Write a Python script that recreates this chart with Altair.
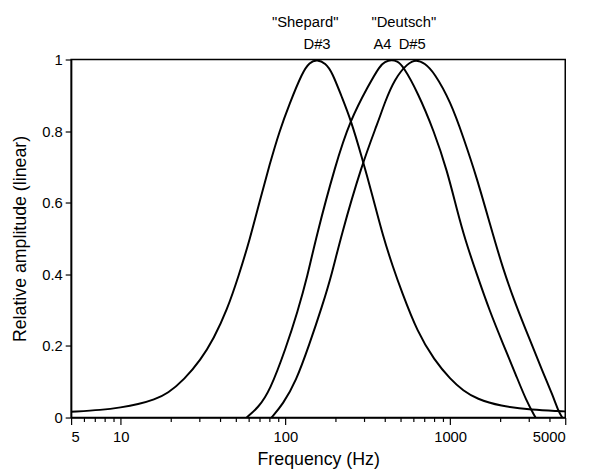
import altair as alt
import pandas as pd

# Shepard envelope (centre D#3)
shepard_freq = [5, 7.7, 10, 12.8, 16, 19.3, 24.3, 30.6, 36.7, 44.2, 52, 61, 70, 80.2, 92,
                105.6, 127, 140, 155.6, 175, 192, 220, 248, 291, 340, 392, 450, 505, 635, 800,
                1007, 1200, 1452, 2004, 3170, 4690, 5000]
shepard_amp = [0.016, 0.021, 0.028, 0.037, 0.050, 0.067, 0.106, 0.161, 0.220, 0.30, 0.395,
               0.50, 0.607, 0.707, 0.80, 0.875, 0.965, 0.992, 1.0, 0.99, 0.965, 0.895, 0.835,
               0.728, 0.615, 0.505, 0.42, 0.355, 0.237, 0.161, 0.106, 0.075, 0.052, 0.032,
               0.021, 0.018, 0.017]

# Deutsch envelope (centre A4)
a4_freq = [58.2, 68.4, 80.2, 100.9, 118.6, 136.2, 152.8, 201.4, 247.7, 318.7, 375, 401, 440, 478,
           516, 635, 800, 960, 1102, 1237, 1452, 1746, 2099, 2519, 2893, 3300]
a4_amp = [0, 0.028, 0.073, 0.195, 0.296, 0.395, 0.50, 0.707, 0.831, 0.927, 0.983, 0.993, 1.0, 0.995,
          0.983, 0.909, 0.799, 0.689, 0.579, 0.495, 0.400, 0.295, 0.205, 0.117, 0.048, 0]

# Deutsch envelope (centre D#5)
ds5_freq = [82.3, 96.6, 115.9, 139.3, 167.5, 192.3, 215.6, 291, 365.7, 401, 460, 553, 622, 700, 800,
            1007, 1209, 1452, 1746, 2099, 2519, 3030, 3640, 4178, 4580, 4800]
ds5_amp = [0, 0.037, 0.101, 0.202, 0.312, 0.404, 0.50, 0.707, 0.826, 0.88, 0.946, 0.99, 1.0, 0.99,
           0.964, 0.882, 0.780, 0.670, 0.540, 0.413, 0.312, 0.220, 0.129, 0.064, 0.014, 0]

# annotations
top_labels = ['"Shepard"', '"Deutsch"']
top_freq = [155.6, 523.2]
top_dx = [-12, 0]
note_labels = ["D#3", "A4", "D#5"]
note_freq = [155.6, 440.0, 622.3]
note_dx = [0, -9, -4]

x_ticks = [5, 6, 7, 8, 9, 10, 20, 30, 40, 50, 60, 70, 80, 90, 100, 200, 300, 400, 500, 600, 700,
           800, 900, 1000, 2000, 3000, 4000, 5000]
x_major = [5, 10, 100, 1000, 5000]
y_ticks = [0, 0.2, 0.4, 0.6, 0.8, 1]

rows = []
for name, fs, amps in [("Shepard", shepard_freq, shepard_amp),
                       ("A4", a4_freq, a4_amp),
                       ("D#5", ds5_freq, ds5_amp)]:
    for f, a in zip(fs, amps):
        rows.append({"series": name, "freq": f, "amp": a})
df = pd.DataFrame(rows)

FONT = "Liberation Sans"
major_test = "indexof(" + str(x_major) + ", datum.value) >= 0"

x_enc = alt.X("freq:Q",
              scale=alt.Scale(type="log", domain=[5, 5000], nice=False),
              axis=alt.Axis(values=x_ticks, title="Frequency (Hz)",
                            labelExpr=major_test + " ? format(datum.value, 'd') : ''",
                            tickSize={"condition": {"test": major_test, "value": 7}, "value": 4},
                            labelPadding=5, titlePadding=7))
y_enc = alt.Y("amp:Q", scale=alt.Scale(domain=[0, 1], nice=False),
              axis=alt.Axis(values=y_ticks, format="~g", title="Relative amplitude (linear)",
                            tickSize=6, labelPadding=3, titlePadding=12))

lines = alt.Chart(df).mark_line(color="black", strokeWidth=2, interpolate="basis").encode(
    x=x_enc, y=y_enc, detail="series:N")

top_df = pd.DataFrame({"label": top_labels, "freq": top_freq, "dx": top_dx})
note_df = pd.DataFrame({"label": note_labels, "freq": note_freq, "dx": note_dx})

t_top = alt.layer(*[
    alt.Chart(top_df.iloc[[i]]).mark_text(font=FONT, fontSize=15, color="black", baseline="middle",
                                          dx=int(top_dx[i])).encode(
        x="freq:Q", y=alt.value(-38), text="label:N")
    for i in range(len(top_labels))
])
t_note = alt.layer(*[
    alt.Chart(note_df.iloc[[i]]).mark_text(font=FONT, fontSize=15, color="black", baseline="middle",
                                           dx=int(note_dx[i])).encode(
        x="freq:Q", y=alt.value(-16), text="label:N")
    for i in range(len(note_labels))
])

chart = alt.layer(lines, t_top, t_note).properties(
    width=501, height=363,
    padding={"left": 64, "top": 49, "right": 18, "bottom": 52},
    autosize=alt.AutoSizeParams(type="none"),
).configure_view(stroke="black", strokeWidth=1.5).configure_axis(
    grid=False, domainColor="black", domainWidth=1.5, tickColor="black", tickWidth=1.2,
    labelColor="black", titleColor="black", labelFont=FONT, titleFont=FONT,
    labelFontSize=15, titleFontSize=18, titleFontWeight="normal",
)

chart.save("out.html", embed_options={"renderer": "svg", "actions": False})
